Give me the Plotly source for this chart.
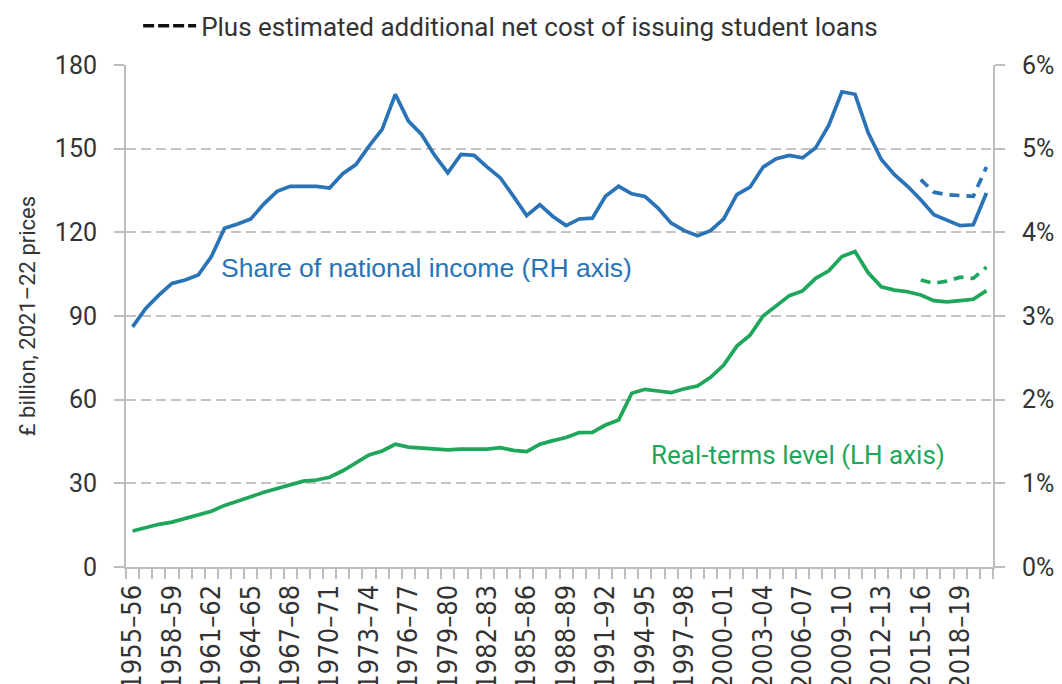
import plotly.graph_objects as go

years = [f"{y}\u2013{str(y + 1)[-2:]}" for y in range(1955, 2021)]

share_pct = [2.87, 3.09, 3.25, 3.39, 3.43, 3.49, 3.71, 4.05, 4.10, 4.16,
             4.34, 4.49, 4.55, 4.55, 4.55, 4.53, 4.70, 4.81, 5.03, 5.23,
             5.65, 5.33, 5.17, 4.92, 4.71, 4.93, 4.92, 4.78, 4.65, 4.43,
             4.20, 4.33, 4.19, 4.08, 4.16, 4.17, 4.43, 4.55, 4.46, 4.43,
             4.29, 4.11, 4.02, 3.96, 4.02, 4.16, 4.45, 4.54, 4.78, 4.88,
             4.92, 4.89, 5.01, 5.28, 5.68, 5.65, 5.19, 4.87, 4.69, 4.55,
             4.39, 4.21, 4.14, 4.08, 4.09, 4.47]

share_plus_loans = [None] * 60 + [4.63, 4.48, 4.45, 4.44, 4.43, 4.78]

real_bn = [12.9, 14.1, 15.3, 16.1, 17.3, 18.5, 20.0, 22.1, 23.8, 25.2,
           26.8, 28.2, 29.6, 30.8, 31.2, 32.2, 34.5, 37.4, 40.2, 41.6,
           44.0, 43.0, 42.7, 42.3, 42.0, 42.3, 42.4, 42.3, 42.8, 41.8,
           41.4, 44.0, 45.3, 46.4, 48.2, 48.3, 50.9, 52.7, 62.3, 63.7,
           63.1, 62.5, 63.9, 64.9, 68.0, 72.4, 79.2, 83.1, 90.0, 93.6,
           97.3, 99.0, 103.5, 106.2, 111.3, 113.1, 105.5, 100.5, 99.3, 98.7,
           97.5, 95.5, 95.1, 95.5, 96.0, 99.1]

real_plus_loans = [None] * 60 + [102.9, 101.7, 102.5, 103.9, 103.5, 107.5]

left_ticks = [0, 30, 60, 90, 120, 150, 180]
right_ticks = [0, 1, 2, 3, 4, 5, 6]
right_labels = [f"{v}%" for v in right_ticks]

BLUE = "#2a73b6"
GREEN = "#1ea65a"
GRID = "#c4c4c4"
AXIS = "#bdbdbd"
TEXT = "#333333"

idx = list(range(len(years)))

fig = go.Figure()
fig.add_trace(go.Scatter(x=idx, y=real_bn, mode="lines",
                         line=dict(color=GREEN, width=3.7), showlegend=False))
fig.add_trace(go.Scatter(x=idx, y=real_plus_loans, mode="lines",
                         line=dict(color=GREEN, width=3.7, dash="10px,7px"),
                         showlegend=False))
fig.add_trace(go.Scatter(x=idx, y=share_pct, mode="lines", yaxis="y2",
                         line=dict(color=BLUE, width=3.7), showlegend=False))
fig.add_trace(go.Scatter(x=idx, y=share_plus_loans, mode="lines", yaxis="y2",
                         line=dict(color=BLUE, width=3.7, dash="10px,7px"),
                         showlegend=False))
fig.add_trace(go.Scatter(x=[None], y=[None], mode="lines",
                         line=dict(color="#111111", width=3.5, dash="11px,4px"),
                         name="Plus estimated additional net cost of issuing student loans",
                         showlegend=True))

tick_idx = list(range(0, len(years), 3))

fig.update_layout(
    width=1062, height=684,
    margin=dict(l=118, r=77, t=57, b=125, autoexpand=False),
    plot_bgcolor="white", paper_bgcolor="white",
    font=dict(family="Roboto, sans-serif", color=TEXT),
    xaxis=dict(
        range=[-0.5, len(years) - 0.5],
        tickmode="array", tickvals=tick_idx,
        ticktext=[years[i] for i in tick_idx],
        tickangle=-90, ticks="", ticklabelstandoff=5,
        tickfont=dict(family="Liberation Sans Narrow, Arial Narrow, DejaVu Sans Condensed, sans-serif",
                      size=27, color=TEXT),
        showline=True, linecolor=AXIS, linewidth=2,
        showgrid=False, zeroline=False, automargin=False,
        minor=dict(tickmode="array",
                   tickvals=[i - 0.5 for i in range(len(years) + 1)],
                   ticks="outside", ticklen=10, tickwidth=2, tickcolor=AXIS,
                   showgrid=False),
    ),
    yaxis=dict(
        range=[0, 180], tickmode="array", tickvals=left_ticks,
        ticks="outside", ticklen=10, tickwidth=2, tickcolor=AXIS,
        ticklabelstandoff=12,
        tickfont=dict(size=25, color=TEXT),
        showline=True, linecolor=AXIS, linewidth=2,
        showgrid=True, gridcolor=GRID, gridwidth=2, griddash="10px,5px",
        zeroline=False, automargin=False,
        title=dict(text="£ billion, 2021\u201322 prices",
                   font=dict(size=22, color=TEXT), standoff=13),
    ),
    yaxis2=dict(
        range=[0, 6], tickmode="array", tickvals=right_ticks,
        ticktext=right_labels, overlaying="y", side="right",
        ticks="outside", ticklen=10, tickwidth=2, tickcolor=AXIS,
        ticklabelstandoff=12,
        tickfont=dict(size=25, color=TEXT),
        showline=True, linecolor=AXIS, linewidth=2,
        showgrid=False, zeroline=False, automargin=False,
    ),
    legend=dict(x=0.014, y=1.078, xanchor="left", yanchor="middle",
                font=dict(size=26, color=TEXT), bgcolor="rgba(0,0,0,0)",
                itemwidth=53),
    annotations=[
        dict(x=6.6, y=107.2, xref="x", yref="y", xanchor="left", yanchor="middle",
             text="Share of national income (RH axis)", showarrow=False,
             font=dict(family="Liberation Sans, Arial, sans-serif", size=26.5, color=BLUE)),
        dict(x=39.3, y=40.2, xref="x", yref="y", xanchor="left", yanchor="middle",
             text="Real-terms level (LH axis)", showarrow=False,
             font=dict(family="Roboto, sans-serif", size=26, color=GREEN)),
    ],
)

fig.write_html("out.html")
